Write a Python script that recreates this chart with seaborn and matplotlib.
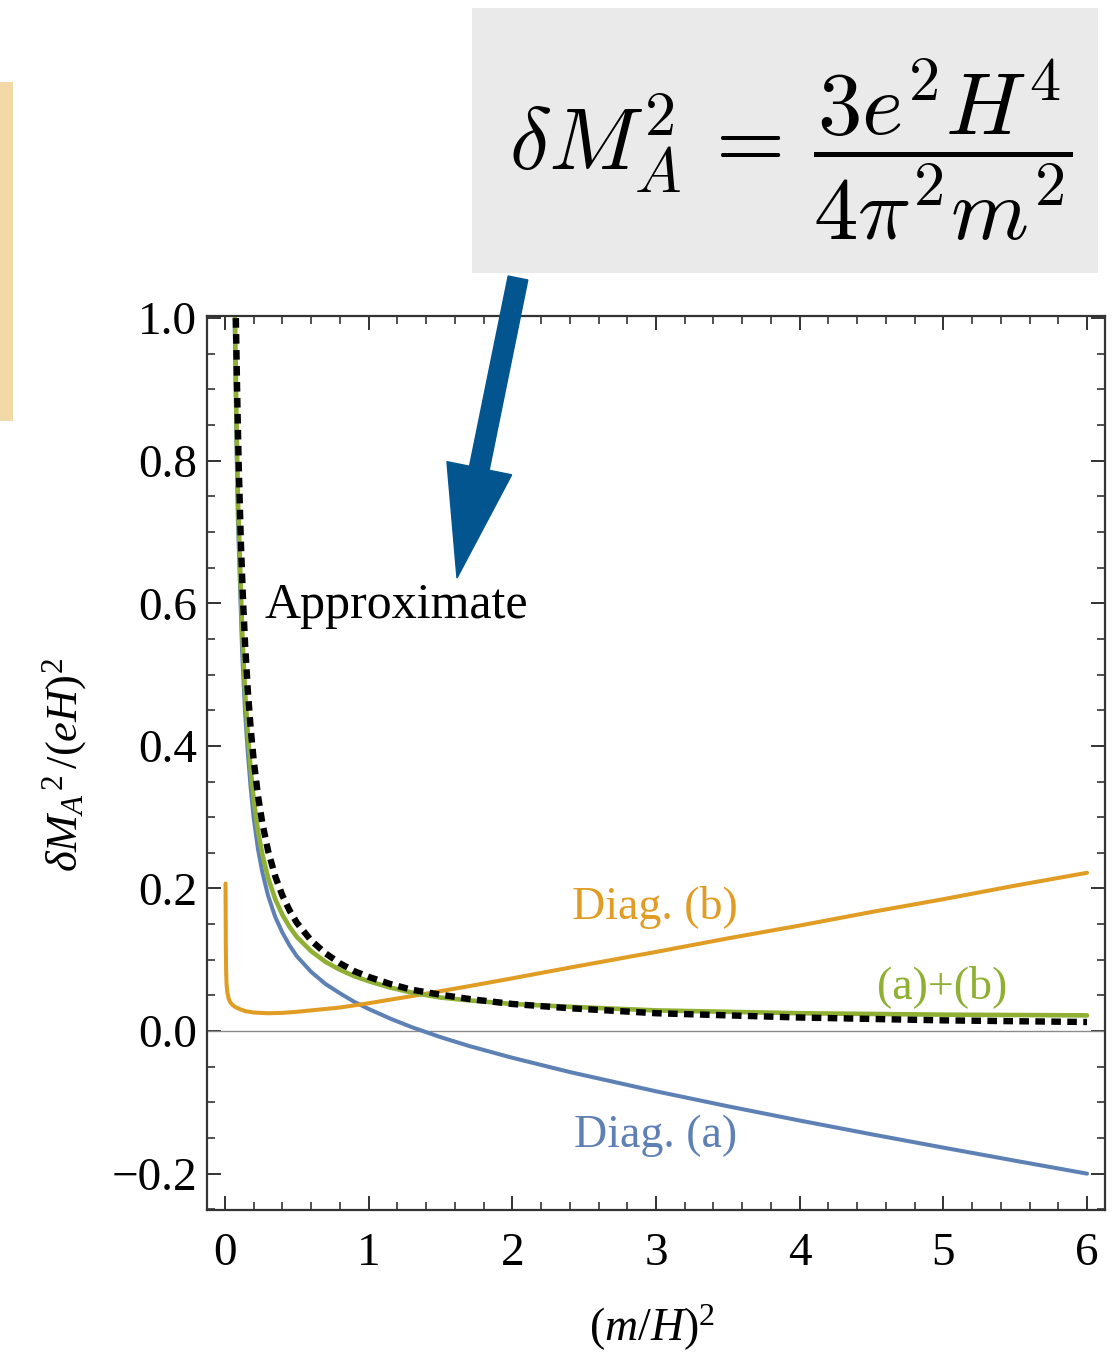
import matplotlib
matplotlib.use("Agg")
import matplotlib.pyplot as plt
from matplotlib.patches import Rectangle, FancyArrow
from matplotlib.transforms import IdentityTransform
from matplotlib.ticker import MultipleLocator, FuncFormatter
import numpy as np
import pandas as pd
import seaborn as sns

# values, x = (m/H)^2
diag_a_x = [0.067, 0.08, 0.09, 0.104, 0.12, 0.14, 0.16, 0.18, 0.2, 0.23, 0.26, 0.3,
            0.35, 0.4, 0.45, 0.5, 0.6, 0.7, 0.8, 0.9, 1.0, 1.15, 1.3, 1.5, 1.7, 2.0,
            2.4, 3.0, 3.5, 4.0, 4.5, 5.0, 5.5, 6.0]
diag_a_y = [1.0, 0.827, 0.718, 0.629, 0.53, 0.447, 0.388, 0.339, 0.299, 0.255, 0.223,
            0.19, 0.16, 0.138, 0.12, 0.105, 0.083, 0.066, 0.053, 0.041, 0.031, 0.0175,
            0.0055, -0.0085, -0.021, -0.0375, -0.0575, -0.0845, -0.1055, -0.1255,
            -0.1448, -0.1635, -0.1819, -0.2]

diag_b_x = [0.004, 0.005, 0.006, 0.008, 0.011, 0.016, 0.025, 0.035, 0.05, 0.07, 0.1,
            0.14, 0.2, 0.3, 0.4, 0.5, 0.6, 0.7, 0.8, 0.9, 1.0, 1.15, 1.3, 1.5, 1.7,
            2.0, 2.4, 3.0, 3.5, 4.0, 4.5, 5.0, 5.5, 6.0]
diag_b_y = [0.207, 0.16, 0.12, 0.085, 0.066, 0.055, 0.046, 0.041, 0.037, 0.034, 0.031,
            0.028, 0.026, 0.025, 0.0255, 0.027, 0.029, 0.031, 0.033, 0.036, 0.039,
            0.044, 0.049, 0.056, 0.063, 0.074, 0.089, 0.111, 0.13, 0.148, 0.167,
            0.185, 0.204, 0.222]

sum_x = [0.07, 0.08, 0.09, 0.104, 0.12, 0.14, 0.16, 0.18, 0.2, 0.23, 0.26, 0.3, 0.35,
         0.4, 0.45, 0.5, 0.6, 0.7, 0.8, 0.9, 1.0, 1.15, 1.3, 1.5, 1.7, 2.0, 2.4, 3.0,
         3.5, 4.0, 4.5, 5.0, 5.5, 6.0]
sum_y = [1.0, 0.86, 0.75, 0.66, 0.56, 0.475, 0.415, 0.365, 0.325, 0.28, 0.248, 0.215,
         0.185, 0.163, 0.146, 0.132, 0.112, 0.097, 0.086, 0.077, 0.07, 0.061, 0.054,
         0.047, 0.043, 0.038, 0.034, 0.029, 0.027, 0.025, 0.024, 0.023, 0.0225, 0.022]

approx_x = [0.076, 0.085, 0.095, 0.11, 0.125, 0.14, 0.16, 0.18, 0.2, 0.23, 0.26, 0.3,
            0.35, 0.4, 0.45, 0.5, 0.6, 0.7, 0.8, 0.9, 1.0, 1.15, 1.3, 1.5, 1.7, 2.0,
            2.4, 3.0, 3.5, 4.0, 4.5, 5.0, 5.5, 6.0]
approx_y = [1.0, 0.894, 0.80, 0.69, 0.608, 0.543, 0.475, 0.422, 0.38, 0.33, 0.292,
            0.253, 0.217, 0.19, 0.169, 0.152, 0.127, 0.109, 0.095, 0.084, 0.076,
            0.066, 0.058, 0.051, 0.045, 0.038, 0.032, 0.025, 0.022, 0.019, 0.017,
            0.015, 0.0138, 0.0127]

x_ticks = [0, 1, 2, 3, 4, 5, 6]
y_ticks = [-0.2, 0.0, 0.2, 0.4, 0.6, 0.8, 1.0]

BLUE = "#5E81B5"
ORANGE = "#E19C24"
GREEN = "#8FB032"

sns.set_theme(style="ticks")
plt.rcParams["font.family"] = ["Liberation Serif", "DejaVu Serif"]
plt.rcParams["mathtext.fontset"] = "custom"
plt.rcParams["mathtext.rm"] = "Liberation Serif"
plt.rcParams["mathtext.it"] = "Liberation Serif:italic"
plt.rcParams["mathtext.bf"] = "Liberation Serif:bold"
plt.rcParams["text.color"] = "black"
plt.rcParams["xtick.labelcolor"] = "black"
plt.rcParams["ytick.labelcolor"] = "black"

fig = plt.figure(figsize=(11.19, 13.54), dpi=100)
ax = fig.add_axes([207 / 1119, 1 - 1210 / 1354, 898 / 1119, 894 / 1354])

ax.axhline(0, color="#8a8a8a", lw=1.0, zorder=1)

sns.lineplot(x=diag_a_x, y=diag_a_y, ax=ax, color=BLUE, lw=2.9, sort=False, estimator=None)
sns.lineplot(x=diag_b_x, y=diag_b_y, ax=ax, color=ORANGE, lw=2.9, sort=False, estimator=None)
sns.lineplot(x=sum_x, y=sum_y, ax=ax, color=GREEN, lw=3.3, sort=False, estimator=None)
sns.lineplot(x=approx_x, y=approx_y, ax=ax, color="black", lw=4.6, sort=False,
             estimator=None, linestyle=(0, (1.5, 1.0)))

ax.set_xlim(-0.125, 6.125)
ax.set_ylim(-0.251, 1.003)
ax.set_xticks(x_ticks)
ax.set_yticks(y_ticks)
ax.xaxis.set_minor_locator(MultipleLocator(0.2))
ax.yaxis.set_minor_locator(MultipleLocator(0.05))
ax.yaxis.set_major_formatter(FuncFormatter(lambda v, p: f"{v:.1f}".replace("-", "\u2212")))
ax.set_xlabel("")
ax.set_ylabel("")

for s in ax.spines.values():
    s.set_color("#333333")
    s.set_linewidth(1.6)

ax.tick_params(which="major", direction="in", top=True, right=True,
               length=10, width=1.4, color="#333333", labelsize=34)
ax.tick_params(which="minor", direction="in", top=True, right=True,
               length=6, width=1.2, color="#333333")
ax.tick_params(axis="x", which="major", pad=16)
ax.tick_params(axis="y", which="major", pad=7)

# curve labels
ax.text(2.99, 0.174, "Diag. (b)", color=ORANGE, fontsize=33, ha="center", va="center")
ax.text(3.0, -0.147, "Diag. (a)", color=BLUE, fontsize=33, ha="center", va="center")
ax.text(4.99, 0.062, "(a)+(b)", color=GREEN, fontsize=33, ha="center", va="center")
ax.text(0.278, 0.596, "Approximate", color="black", fontsize=36, ha="left", va="center")

# axis titles
fig.text(65 / 1119, 1 - 765 / 1354, r"$\delta M_A{}^{\,2}\,/(eH)^2$", rotation=90,
         fontsize=32, ha="center", va="center")
fig.text(652 / 1119, 1 - 1328 / 1354, r"$(m/H)^2$", fontsize=33, ha="center", va="center")

# formula box
fig.patches.append(Rectangle((472 / 1119, 1 - 273 / 1354), 626 / 1119, 265 / 1354,
                             transform=fig.transFigure, facecolor="#EAEAEA",
                             edgecolor="none", zorder=0))
fig.text(791 / 1119, 1 - 150 / 1354,
         r"$\delta M_A^2 \,=\, \dfrac{3e^2H^4}{4\pi^2 m^2}$",
         fontsize=64, ha="center", va="center", math_fontfamily="cm")

# beige bar at left edge
fig.patches.append(Rectangle((0, 1 - 421 / 1354), 13 / 1119, 339 / 1354,
                             transform=fig.transFigure, facecolor="#F3D9A8",
                             edgecolor="none", zorder=0))

# big arrow
arrow = FancyArrow(518, 1354 - 278, -61, -300, width=20, head_width=66,
                   head_length=112, length_includes_head=True,
                   color="#03558F", transform=IdentityTransform(), zorder=5)
fig.patches.append(arrow)

fig.savefig("out.png", dpi=100)
plt.close(fig)
